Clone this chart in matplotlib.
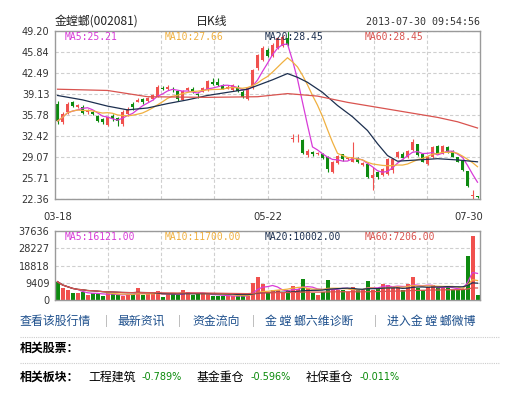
import numpy as np
import pandas as pd
import matplotlib.pyplot as plt
from matplotlib.lines import Line2D

plt.rcParams['font.family'] = ['Noto Sans CJK SC', 'DejaVu Sans']

# daily candles 03-18 .. 07-30
opens = [37.6, 34.6, 36.2, 37.8, 37.1, 37.1, 36.2, 36.2, 35.6, 35.1,
         34.2, 35.7, 35.3, 34.3, 35.9, 37.5, 37.9, 38.3, 38.0, 38.3,
         38.7, 40.1, 39.9, 39.9, 39.6, 38.2, 39.8, 40.0, 39.2, 39.5,
         39.8, 41.1, 41.1, 40.6, 40.0, 39.8, 40.3, 39.5, 38.3, 40.1,
         43.3, 44.6, 46.2, 45.2, 46.5, 46.8, 48.1, 31.9, 31.9, 31.8,
         29.4, 29.9, 29.5, 29.6, 29.1, 26.6, 28.1, 29.5, 28.8, 28.3,
         28.9, 27.8, 28.0, 25.7, 26.6, 26.2, 26.3, 27.0, 29.0, 29.6,
         29.0, 30.2, 31.1, 29.6, 28.0, 29.0, 30.8, 29.6, 30.7, 30.1,
         29.0, 28.5, 26.8, 22.8, 22.8]
closes = [34.8, 36.0, 37.6, 37.2, 37.3, 36.1, 36.5, 36.0, 34.8, 34.6,
          35.4, 35.1, 34.9, 36.3, 36.8, 37.0, 38.2, 37.9, 38.5, 39.0,
          40.3, 40.0, 40.3, 39.8, 38.3, 39.6, 40.1, 39.5, 38.9, 40.1,
          41.2, 40.7, 40.5, 40.0, 40.3, 40.5, 39.6, 38.7, 40.1, 43.0,
          45.4, 46.5, 45.2, 47.0, 48.1, 48.3, 47.0, 32.1, 32.0, 29.7,
          30.1, 29.5, 29.7, 28.9, 27.1, 28.2, 29.2, 28.7, 28.9, 29.0,
          28.3, 28.1, 25.9, 26.2, 25.9, 27.1, 28.7, 28.8, 29.9, 28.9,
          30.0, 31.5, 29.4, 28.3, 29.1, 30.6, 29.6, 30.8, 29.9, 29.1,
          28.3, 27.0, 24.4, 22.9, 22.6]
highs = [38.0, 36.3, 37.9, 38.0, 37.6, 37.3, 36.8, 36.4, 35.8, 35.3,
         35.6, 35.9, 35.5, 36.5, 37.0, 37.8, 38.5, 38.5, 38.7, 39.2,
         40.5, 40.4, 40.5, 40.3, 39.8, 39.8, 40.3, 40.2, 39.3, 40.3,
         41.4, 41.7, 41.7, 40.8, 40.5, 40.7, 40.5, 39.7, 40.3, 43.1,
         45.6, 46.8, 46.5, 47.3, 48.3, 48.6, 49.5, 32.8, 32.7, 31.9,
         30.4, 30.0, 29.9, 29.7, 29.2, 28.4, 29.4, 29.6, 29.1, 31.5,
         29.0, 28.3, 28.1, 27.5, 26.8, 27.3, 28.9, 28.9, 30.1, 29.8,
         30.2, 32.0, 31.2, 29.7, 29.3, 30.8, 31.0, 31.0, 30.8, 30.2,
         29.1, 28.6, 26.9, 23.8, 22.9]
lows = [34.3, 34.3, 36.0, 37.0, 36.9, 35.9, 36.0, 35.8, 34.6, 34.3,
        34.0, 34.9, 34.1, 34.1, 35.7, 36.6, 37.8, 37.6, 37.9, 38.2,
        38.6, 39.7, 39.8, 39.4, 38.0, 38.1, 39.6, 39.3, 38.5, 39.4,
        39.6, 40.6, 40.4, 39.9, 39.9, 39.6, 39.5, 38.5, 38.1, 40.0,
        43.0, 44.4, 45.0, 45.0, 46.3, 46.6, 46.8, 31.5, 31.4, 29.6,
        29.1, 29.3, 29.4, 28.8, 26.6, 26.5, 27.9, 28.5, 28.6, 28.2,
        28.1, 27.6, 25.7, 23.8, 25.6, 26.0, 26.2, 26.5, 28.9, 28.8,
        28.9, 30.1, 29.3, 28.2, 27.8, 28.9, 29.5, 29.5, 29.7, 29.0,
        28.2, 26.9, 24.3, 22.4, 22.5]
volumes = [10000, 6400, 5400, 3600, 3600, 4500, 2700, 4000, 3300, 2200,
           3600, 3300, 2700, 2200, 3300, 3300, 6400, 2700, 3300, 3300,
           4900, 1500, 3300, 3300, 2700, 5400, 4500, 2700, 3300, 3300,
           3300, 2200, 2200, 2200, 2200, 2200, 2200, 2200, 2200, 9400,
           12500, 8700, 3600, 5400, 5400, 4500, 5400, 7600, 5800, 11300,
           6400, 4000, 2700, 4500, 10900, 5800, 5400, 5400, 4500, 7300,
           5400, 5400, 10400, 5400, 6400, 8700, 8200, 7300, 7300, 5400,
           8700, 12700, 6400, 5400, 7300, 8200, 6400, 6400, 7300, 5400,
           5400, 5400, 24000, 35000, 2700]

# MA20 / MA60 (they need history before 03-18)
ma20_idx = [0, 5, 10, 14, 18, 22, 26, 30, 34, 38, 40, 43, 46, 48, 50,
            53, 56, 59, 62, 64, 66, 68, 72, 76, 80, 84]
ma20_val = [38.9, 38.2, 37.2, 36.6, 36.9, 37.6, 38.2, 38.9, 39.4, 39.9,
            40.5, 41.4, 42.4, 41.8, 41.0, 39.4, 37.3, 35.5, 33.3, 31.2,
            29.3, 28.4, 28.6, 28.8, 28.6, 28.3]
ma60_idx = [0, 10, 14, 18, 30, 40, 46, 52, 58, 64, 70, 76, 80, 84]
ma60_val = [39.9, 39.7, 39.2, 38.7, 38.6, 38.7, 39.2, 38.8, 37.8, 37.0,
            36.2, 35.4, 34.7, 33.7]

date_labels = ['03-18', '05-22', '07-30']
date_idx = [0, 42, 84]
price_ticks = [22.36, 25.71, 29.07, 32.42, 35.78, 39.13, 42.49, 45.84, 49.20]
vol_ticks = [0, 9409, 18818, 28227, 37636]

price_ma_text = ['MA5:25.21', 'MA10:27.66', 'MA20:28.45', 'MA60:28.45']
vol_ma_text = ['MA5:16121.00', 'MA10:11700.00', 'MA20:10002.00', 'MA60:7206.00']

RED = '#f0514e'
GREEN = '#0e8a10'
MA_COLORS = ['#d83bd8', '#f0b040', '#1c2f4f', '#d9534f']
GRID = '#cfcfcf'
FRAME = '#9a9a9a'

W, H = 505, 396


def fx(x):
    return x / W


def fy(y):
    return 1 - y / H


o = np.array(opens)
c = np.array(closes)
x = np.arange(len(c))
cols = np.where(c >= o, RED, GREEN)

fig = plt.figure(figsize=(W / 100, H / 100), dpi=100)
ax = fig.add_axes([fx(55), fy(199), 425 / W, 168 / H])
axv = fig.add_axes([fx(55), fy(300), 425 / W, 69 / H])

grid_x = [-0.5 + 85 / 8 * k for k in range(1, 8)]

for a in (ax, axv):
    a.set_xlim(-0.5, len(c) - 0.5)
    a.set_xticks(grid_x)
    a.set_xticklabels([])
    a.grid(True, color=GRID, linestyle=(0, (3, 2)), linewidth=0.8)
    a.set_axisbelow(True)
    a.tick_params(length=0, labelsize=7, colors='#333333', pad=4)
    for s in a.spines.values():
        s.set_color(FRAME)
        s.set_linewidth(1)

# price panel
ax.vlines(x, lows, highs, colors=cols, linewidth=0.8)
ax.bar(x, np.maximum(np.abs(c - o), 0.12), bottom=np.minimum(o, c),
       width=0.76, color=cols, linewidth=0)
cs = pd.Series(c)
ax.plot(x, cs.rolling(5, min_periods=1).mean(), color=MA_COLORS[0], lw=0.9)
ax.plot(x, cs.rolling(10, min_periods=1).mean(), color=MA_COLORS[1], lw=0.9)
ax.plot(ma20_idx, ma20_val, color=MA_COLORS[2], lw=0.9)
ax.plot(ma60_idx, ma60_val, color=MA_COLORS[3], lw=0.9)
ax.set_ylim(price_ticks[0], price_ticks[-1])
ax.set_yticks(price_ticks)
ax.set_yticklabels(['%.2f' % t for t in price_ticks], family='DejaVu Sans')

for i, lbl in zip(date_idx, date_labels):
    ha = 'center'
    xx = i
    if i == date_idx[-1]:
        ha = 'right'
        xx = i + 1.1
    ax.text(xx, -0.107, lbl, transform=ax.get_xaxis_transform(), ha=ha,
            va='center', fontsize=7.2, color='#333333', family='DejaVu Sans')

# volume panel
vs = pd.Series(volumes, dtype=float)
axv.bar(x, volumes, width=0.8, color=cols, linewidth=0)
for win, col in zip([5, 10, 20, 60], MA_COLORS):
    axv.plot(x, vs.rolling(win, min_periods=1).mean(), color=col, lw=0.9)
axv.set_ylim(0, vol_ticks[-1])
axv.set_yticks(vol_ticks)
axv.set_yticklabels([str(t) for t in vol_ticks], family='DejaVu Sans')

# MA captions
for k, (t1, t2) in enumerate(zip(price_ma_text, vol_ma_text)):
    fig.text(fx(65 + 100 * k), fy(36.5), t1, color=MA_COLORS[k],
             fontsize=7, family='DejaVu Sans Mono', va='center')
    fig.text(fx(65 + 100 * k), fy(237), t2, color=MA_COLORS[k],
             fontsize=7, family='DejaVu Sans Mono', va='center')

# header
fig.text(fx(55), fy(21), '金螳螂(002081)', fontsize=8.6, va='center', color='#222222')
fig.text(fx(212), fy(21), '日K线', fontsize=8.6, va='center', ha='center', color='#222222')
fig.text(fx(480), fy(22), '2013-07-30 09:54:56', fontsize=7.2, va='center',
         ha='right', family='DejaVu Sans Mono', color='#333333')

# links row
links = [(20, '查看该股行情'), (117, '最新资讯'), (192, '资金流向'),
         (265, '金 螳 螂六维诊断'), (387, '进入金 螳 螂微博')]
for lx, t in links:
    fig.text(fx(lx), fy(321), t, fontsize=8.6, color='#1d4f8c', va='center')
for sx in [106, 179, 253, 375]:
    fig.text(fx(sx), fy(321), '|', fontsize=8, color='#aaaaaa', va='center', ha='center')

for ly in [337, 363]:
    fig.add_artist(Line2D([fx(20), fx(500)], [fy(ly), fy(ly)], color='#cccccc',
                          linestyle=(0, (1, 1)), linewidth=0.8))

fig.text(fx(20), fy(348), '相关股票：', fontsize=8.6, fontweight='bold', va='center')
fig.text(fx(20), fy(377), '相关板块：', fontsize=8.6, fontweight='bold', va='center')
sectors = [(88, '工程建筑'), (197, '基金重仓'), (306, '社保重仓')]
changes = [(142, '-0.789%'), (251, '-0.596%'), (360, '-0.011%')]
for sx, t in sectors:
    fig.text(fx(sx), fy(377), t, fontsize=8.6, va='center')
for sx, t in changes:
    fig.text(fx(sx), fy(377), t, fontsize=7, va='center', color='#0a8a0a',
             family='DejaVu Sans')

fig.savefig('out.png', dpi=100, facecolor='white')
